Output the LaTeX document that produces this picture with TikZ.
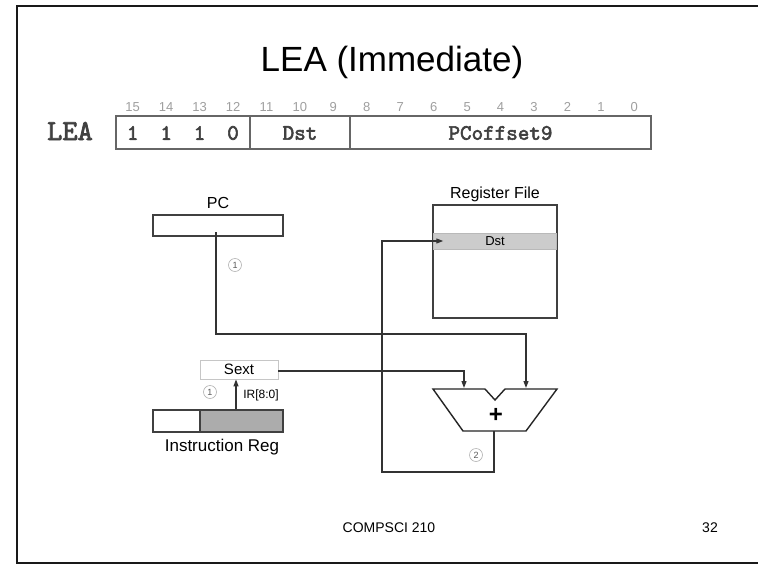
\documentclass[tikz,border=0pt]{standalone}
\usepackage{fontspec}
\setmainfont{Liberation Sans}
\newfontfamily\monob[FakeBold=2.5]{lmmono10-regular.otf}
\usetikzlibrary{arrows.meta,calc}
\begin{document}
\begin{tikzpicture}[x=1pt,y=-1pt,
  wire/.style={draw=black!80, line width=1.2},
  arr/.style={wire, -{Triangle[length=7,width=5]}},
  regbox/.style={draw=black!75, line width=1.3, inner sep=0, fill=white},
  lbl/.style={inner sep=0, font=\fontsize{16}{16}\selectfont},
  circ/.style={circle, draw=gray!60, line width=0.6, inner sep=0, minimum size=13,
               text=gray!70!black, font=\fontsize{9}{9}\selectfont},
  bitnum/.style={inner sep=0, text=gray!75, font=\fontsize{13}{13}\selectfont},
  fld/.style={inner sep=0, text=black!75, font=\monob\fontsize{22}{22}\selectfont}]
\useasboundingbox (0,0) rectangle (758,565);
\fill[white] (0,0) rectangle (758,565);
% frame
\draw[line width=2.5, black!90] (758,6) -- (17,6) -- (17,563) -- (758,563);
% title
\node[inner sep=0, font=\fontsize{35}{35}\selectfont] (title) at (392,62) {LEA (Immediate)};
% instruction format
\node[inner sep=0, text=black!75, font=\monob\fontsize{29}{29}\selectfont] (lea) at (70,131) {LEA};
\node[draw=black!60, line width=1.5, inner sep=0, minimum width=535, minimum height=33] (fmt) at (383.5,132.5) {};
\draw[draw=black!60, line width=1.5] (249.8,116) -- (249.8,149) (350.1,116) -- (350.1,149);
\foreach \i in {0,...,15}{
  \pgfmathtruncatemacro{\b}{15-\i}
  \node[bitnum] (b\b) at ({116+33.44*(\i+0.5)},107) {\b};
}
\node[fld] (o1) at (132.7,133) {1};
\node[fld] (o2) at (166.2,133) {1};
\node[fld] (o3) at (199.6,133) {1};
\node[fld] (o4) at (233.0,133) {0};
\node[fld] (fdst) at (300,133) {Dst};
\node[fld] (foff) at (500.5,133) {PCoffset9};
% PC
\node[regbox, minimum width=130, minimum height=21] (pc) at (218,225.5) {};
\node[lbl] (pclbl) at (218,203) {PC};
% Register file
\node[regbox, minimum width=124, minimum height=113] (rf) at (495,261.5) {};
\node[lbl] (rflbl) at (495,194) {Register File};
\node[draw=gray!55, line width=0.5, fill=gray!40, inner sep=0, minimum width=123, minimum height=16,
      font=\fontsize{13}{13}\selectfont] (dst) at (495,241) {Dst};
% Instruction register
\node[regbox, minimum width=130, minimum height=22] (ir) at (218,421) {};
\node[draw=black!75, line width=1.3, fill=gray!65, inner sep=0, minimum width=83, minimum height=22] (irlo) at (241.5,421) {};
\node[inner sep=0, font=\fontsize{17}{17}\selectfont] (irlbl) at (222,447) {Instruction Reg};
% Sext
\node[draw=gray!45, line width=0.8, fill=white, inner sep=0, minimum width=78, minimum height=19,
      font=\fontsize{15}{15}\selectfont] (sext) at (239,369.5) {Sext};
% ALU
\draw[draw=black!85, line width=1.4, fill=white]
  (433,389) -- (485,389) -- (495,400) -- (505,389) -- (557,389) -- (526,431) -- (463,431) -- cycle;
\node[inner sep=0, font=\bfseries\fontsize{24}{24}\selectfont] (plus) at (496,415) {+};
\coordinate (aluL) at (464,388);
\coordinate (aluR) at (526,388);
\coordinate (aluO) at (494,431);
% wires
\coordinate (pcout) at (216,232);
\coordinate (irtap) at (236,0);
\coordinate (fbx) at (382,472);
\draw[arr] (pcout) |- ($(aluR)+(0,-54)$) -- (aluR);
\draw[arr] (sext.east |- 0,371) -| (aluL);
\draw[arr] (irlo.north -| irtap) -- (sext.south -| irtap);
\draw[arr] (aluO) |- (fbx) |- ([xshift=10]dst.west);
% labels
\node[inner sep=0, font=\fontsize{12}{12}\selectfont] (irf) at (261,395) {IR[8:0]};
\node[circ] (c1a) at (235,265) {1};
\node[circ] (c1b) at (210,392) {1};
\node[circ] (c2) at (476,455) {2};
% footer
\node[inner sep=0, font=\fontsize{14}{14}\selectfont] (foot) at (389,528) {COMPSCI 210};
\node[inner sep=0, font=\fontsize{14}{14}\selectfont] (page) at (710,528) {32};
\end{tikzpicture}
\end{document}
